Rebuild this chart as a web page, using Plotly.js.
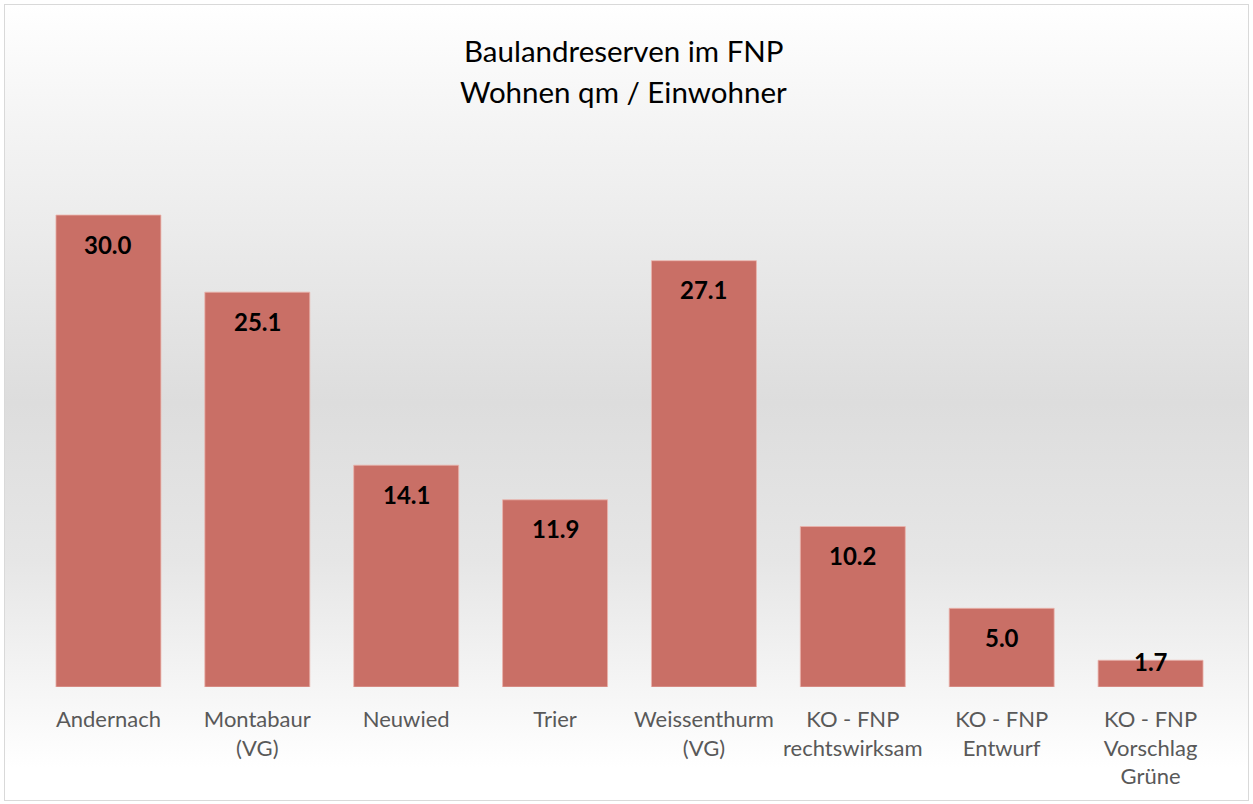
<!DOCTYPE html>
<html>
<head>
<meta charset="utf-8">
<script src="https://cdn.plot.ly/plotly-3.0.1.min.js"></script>
<style>
  html, body { margin: 0; padding: 0; width: 1253px; height: 804px; background: #ffffff; overflow: hidden; }
  #frame {
    position: absolute; left: 4px; top: 4px; width: 1243px; height: 795px;
    border: 1px solid #d9d9d9;
    background: linear-gradient(to bottom, #ffffff 0%, #f4f4f4 15%, #dddddd 50%, #e6e6e6 70%, #ffffff 96%);
  }
  #chart { position: absolute; left: 0; top: 0; width: 1253px; height: 804px; }
</style>
</head>
<body>
<div id="frame"></div>
<div id="chart"></div>
<script>
const categories = [
  "Andernach",
  "Montabaur<br>(VG)",
  "Neuwied",
  "Trier",
  "Weissenthurm<br>(VG)",
  "KO - FNP<br>rechtswirksam",
  "KO - FNP<br>Entwurf",
  "KO - FNP<br>Vorschlag<br>Grüne"
];
const values = [30.0, 25.1, 14.1, 11.9, 27.1, 10.2, 5.0, 1.7];
const titleLines = ["Baulandreserven im FNP", "Wohnen qm / Einwohner"];

const plotTop = 160, plotBottom = 687;
const plotH = plotBottom - plotTop;
const yMax = 33.5;
const pxPerUnit = plotH / yMax;
const FONT = 'Lato, "Open Sans", sans-serif';

const annotations = values.map((v, i) => {
  const h = v * pxPerUnit;
  const shift = -Math.min(29, Math.max(0, h - 26));
  return {
    x: categories[i], y: v, xref: 'x', yref: 'y',
    text: v.toFixed(1), showarrow: false,
    yanchor: 'middle', yshift: shift,
    font: { family: FONT, size: 24, color: '#000000', weight: 'bold' }
  };
});

// title lines as paper annotations (centres at y=50 and y=91 px)
const titleCentres = [50, 91];
titleLines.forEach((t, i) => {
  annotations.push({
    x: 0.5, xref: 'paper', xanchor: 'center', xshift: -6,
    y: (plotBottom - titleCentres[i]) / plotH, yref: 'paper', yanchor: 'middle',
    text: t, showarrow: false,
    font: { family: FONT, size: 29.5, color: '#000000' }
  });
});

const trace = {
  type: 'bar',
  x: categories,
  y: values,
  marker: { color: '#C96F66', line: { color: 'rgba(235,180,172,0.8)', width: 1 } },
  width: 0.705,
  hoverinfo: 'skip'
};

const layout = {
  width: 1253, height: 804,
  paper_bgcolor: 'rgba(0,0,0,0)',
  plot_bgcolor: 'rgba(0,0,0,0)',
  margin: { l: 34, r: 28, t: plotTop, b: 804 - plotBottom, pad: 0 },
  xaxis: {
    showgrid: false, zeroline: false, showline: false,
    ticks: '', tickfont: { family: FONT, size: 22, color: '#595959' },
    ticklabelstandoff: 17
  },
  yaxis: {
    range: [0, yMax], visible: false, showgrid: false, zeroline: false
  },
  annotations: annotations,
  showlegend: false,
  bargap: 0.295
};

Plotly.newPlot('chart', [trace], layout, { displayModeBar: false, staticPlot: true });
</script>
</body>
</html>
